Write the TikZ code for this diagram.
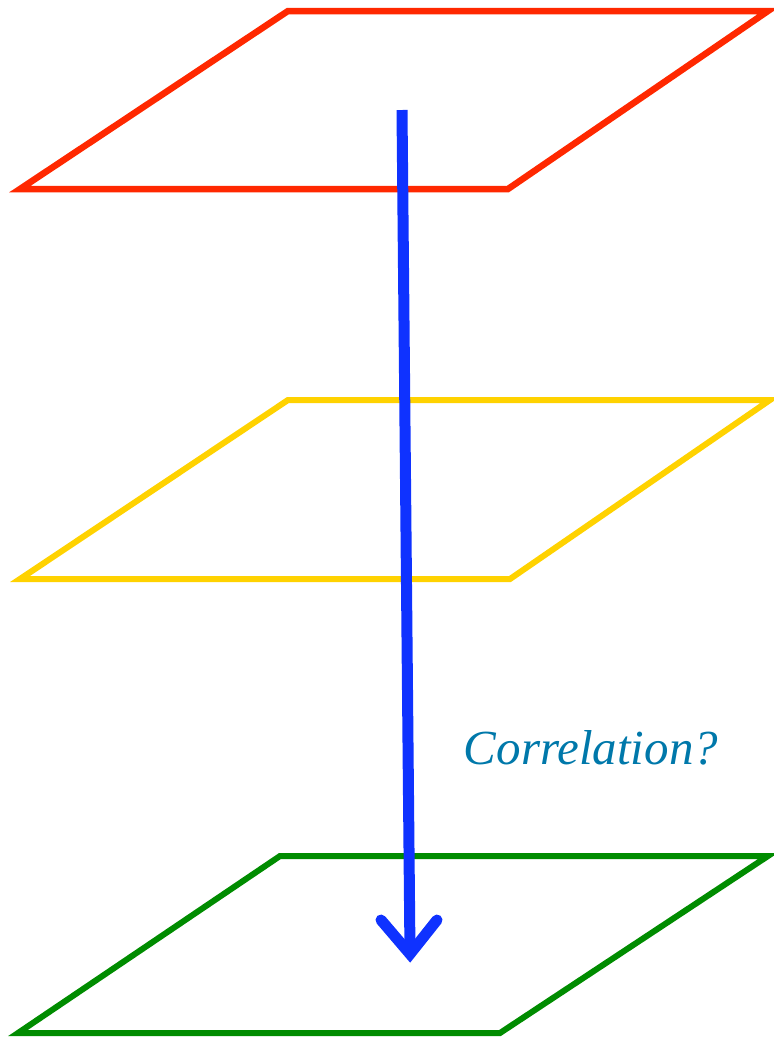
\documentclass[tikz,border=0pt]{standalone}
\usepackage{fontspec}
\setmainfont{Liberation Serif}
\definecolor{cred}{RGB}{255,40,0}
\definecolor{cyellow}{RGB}{255,210,0}
\definecolor{cgreen}{RGB}{0,140,0}
\definecolor{cblue}{RGB}{15,50,255}
\definecolor{cteal}{RGB}{0,120,170}
\begin{document}
\begin{tikzpicture}[x=1pt,y=-1pt,
  plane/.style={line width=#1, line join=miter},
  flow/.style={cblue, line width=11pt},
  lbl/.style={cteal, font=\itshape\fontsize{49}{52}\selectfont, inner sep=0pt, anchor=base}]
\useasboundingbox (0,0) rectangle (774,1037);
% red plane
\coordinate (r1) at (288,11); \coordinate (r2) at (768,11);
\coordinate (r3) at (508,189); \coordinate (r4) at (20,189);
\draw[plane=6.5pt, cred] (r1) -- (r2) -- (r3) -- (r4) -- cycle;
% yellow plane
\coordinate (y1) at (288,400); \coordinate (y2) at (770,400);
\coordinate (y3) at (510,579); \coordinate (y4) at (20,579);
\draw[plane=6pt, cyellow] (y1) -- (y2) -- (y3) -- (y4) -- cycle;
% green plane
\coordinate (g1) at (280,856); \coordinate (g2) at (768,856);
\coordinate (g3) at (500,1033); \coordinate (g4) at (18,1033);
\draw[plane=6pt, cgreen] (g1) -- (g2) -- (g3) -- (g4) -- cycle;
% arrow
\coordinate (a0) at (402,110);
\coordinate (a1) at (410,954);
\coordinate (hl) at (381,920);
\coordinate (hr) at (437,920);
\draw[flow] (a0) -- (a1);
\draw[flow, line cap=round, line join=miter] (hl) -- (a1) -- (hr);
% label
\node[lbl] (t) at (591,764) {Correlation?};
\end{tikzpicture}
\end{document}
